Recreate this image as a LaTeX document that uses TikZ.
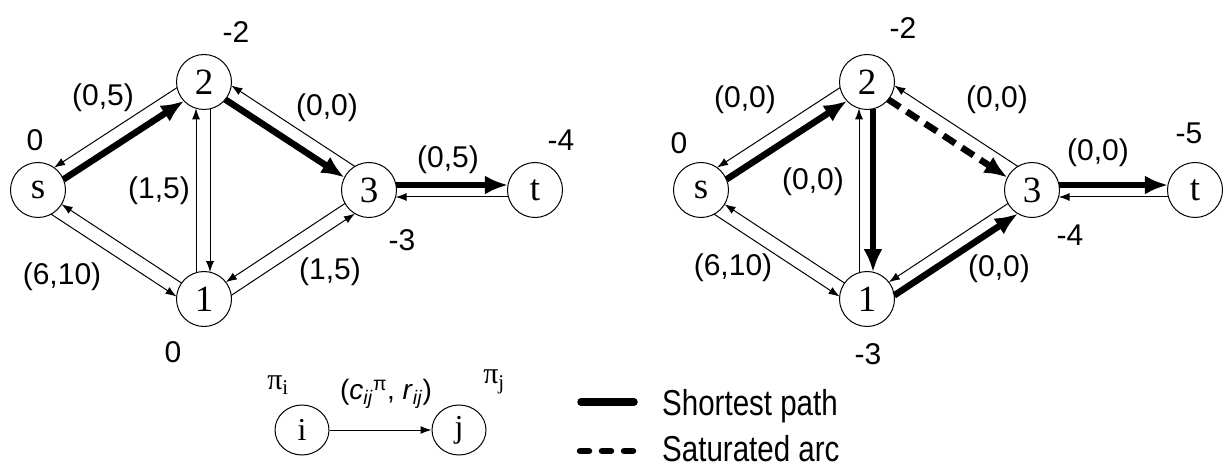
\documentclass[tikz,border=0pt]{standalone}
\usepackage{fontspec}
\setmainfont{Liberation Sans}
\newfontfamily\lserif{Liberation Serif}
\newfontfamily\lnarrow[FakeStretch=0.82]{Liberation Sans}
\usetikzlibrary{arrows.meta,calc,shapes.geometric}
\tikzset{
  vert/.style={circle,draw,line width=1pt,fill=white,minimum size=55pt,inner sep=0pt,font=\lserif\fontsize{37}{37}\selectfont},
  smallvert/.style={ellipse,draw,line width=1pt,fill=white,minimum width=54pt,minimum height=50pt,inner sep=0pt,font=\lserif\fontsize{32}{32}\selectfont},
  lbl/.style={inner sep=0pt,font=\fontsize{30}{30}\selectfont},
  pilbl/.style={inner sep=0pt,font=\lserif\fontsize{30}{30}\selectfont},
  leglbl/.style={inner sep=0pt,anchor=base west,font=\lnarrow\fontsize{36}{36}\selectfont},
  thinarc/.style={line width=1pt,-{Latex[length=11pt,width=8pt]}},
  thickarc/.style={line width=6.5pt,-{Latex[length=23pt,width=19pt]}},
  satarc/.style={thickarc,dash pattern=on 14pt off 8pt},
}
\newcommand\parc[4]{%
  \pgfmathsetmacro\arcshort{sqrt(27.5*27.5-(#4)*(#4))}%
  \draw[#1,shorten <=\arcshort pt,shorten >=\arcshort pt] ($(#2)!#4pt!90:(#3)$) -- ($(#3)!#4pt!-90:(#2)$);%
}
\begin{document}
\begin{tikzpicture}[x=1pt,y=-1pt]
\useasboundingbox (0,0) rectangle (1223,470);
% ---------- left graph ----------
\node[vert] (Ls) at (38,190) {s};
\node[vert] (L2) at (204,82) {2};
\node[vert] (L1) at (204,299) {1};
\node[vert] (L3) at (369,190) {3};
\node[vert] (Lt) at (535,190) {t};
\parc{thickarc}{Ls}{L2}{-5}
\parc{thinarc}{L2}{Ls}{-10}
\parc{thinarc}{L2}{L1}{6}
\parc{thinarc}{L1}{L2}{8}
\parc{thickarc}{L2}{L3}{-3}
\parc{thinarc}{L3}{L2}{-12}
\parc{thinarc}{Ls}{L1}{-13}
\parc{thinarc}{L1}{Ls}{-1}
\parc{thinarc}{L1}{L3}{-12}
\parc{thinarc}{L3}{L1}{-2}
\parc{thickarc}{L3}{Lt}{5}
\parc{thinarc}{Lt}{L3}{7}
\node[lbl] (La) at (236,32) {-2};
\node[lbl] (Lb) at (103,98) {(0,5)};
\node[lbl] (Lc) at (35,140) {0};
\node[lbl] (Ld) at (327,108) {(0,0)};
\node[lbl] (Le) at (561,140) {-4};
\node[lbl] (Lf) at (448,160) {(0,5)};
\node[lbl] (Lg) at (159,191) {(1,5)};
\node[lbl] (Lh) at (402,240) {-3};
\node[lbl] (Li) at (62,277) {(6,10)};
\node[lbl] (Lj) at (330,272) {(1,5)};
\node[lbl] (Lk) at (173,352) {0};
% ---------- right graph ----------
\node[vert] (Rs) at (701,190) {s};
\node[vert] (R2) at (867,82) {2};
\node[vert] (R1) at (867,299) {1};
\node[vert] (R3) at (1032,190) {3};
\node[vert] (Rt) at (1195,190) {t};
\parc{thickarc}{Rs}{R2}{-5}
\parc{thinarc}{R2}{Rs}{-10}
\parc{thickarc}{R2}{R1}{6}
\parc{thinarc}{R1}{R2}{8}
\parc{satarc}{R2}{R3}{-3}
\parc{thinarc}{R3}{R2}{-12}
\parc{thinarc}{Rs}{R1}{-13}
\parc{thinarc}{R1}{Rs}{-1}
\parc{thickarc}{R1}{R3}{-12}
\parc{thinarc}{R3}{R1}{-2}
\parc{thickarc}{R3}{Rt}{5}
\parc{thinarc}{Rt}{R3}{7}
\node[lbl] (Ra) at (903,28) {-2};
\node[lbl] (Rb) at (745,100) {(0,0)};
\node[lbl] (Rc) at (679,143) {0};
\node[lbl] (Rd) at (997,100) {(0,0)};
\node[lbl] (Re) at (1189,133) {-5};
\node[lbl] (Rf) at (1098,153) {(0,0)};
\node[lbl] (Rg) at (813,182) {(0,0)};
\node[lbl] (Rh) at (1070,235) {-4};
\node[lbl] (Ri) at (733,268) {(6,10)};
\node[lbl] (Rj) at (999,269) {(0,0)};
\node[lbl] (Rk) at (868,354) {-3};
% ---------- legend ----------
\node[smallvert] (Gi) at (302,430) {i};
\node[smallvert] (Gj) at (459,430) {j};
\draw[thinarc] (Gi) -- (Gj);
\node[pilbl] (Gpi) at (278,385) {π\textsubscript{i}};
\node[pilbl] (Gpj) at (494,382) {π\textsubscript{j}};
\node[inner sep=0pt,font=\fontsize{28}{28}\selectfont] (Gc) at (386,394) {(\textit{c}\textsubscript{\textit{ij}}\textsuperscript{π}, \textit{r}\textsubscript{\textit{ij}})};
\coordinate (S1) at (581,402);
\coordinate (S2) at (634,402);
\draw[line width=7.5pt,line cap=round] (S1) -- (S2);
\node[leglbl] (St) at (662,415) {Shortest path};
\coordinate (D1) at (580,451);
\coordinate (D2) at (633,451);
\draw[line width=6.5pt,line cap=round,dash pattern=on 9pt off 13pt] (D1) -- (D2);
\node[leglbl] (Dt) at (662,461) {Saturated arc};
\end{tikzpicture}
\end{document}
